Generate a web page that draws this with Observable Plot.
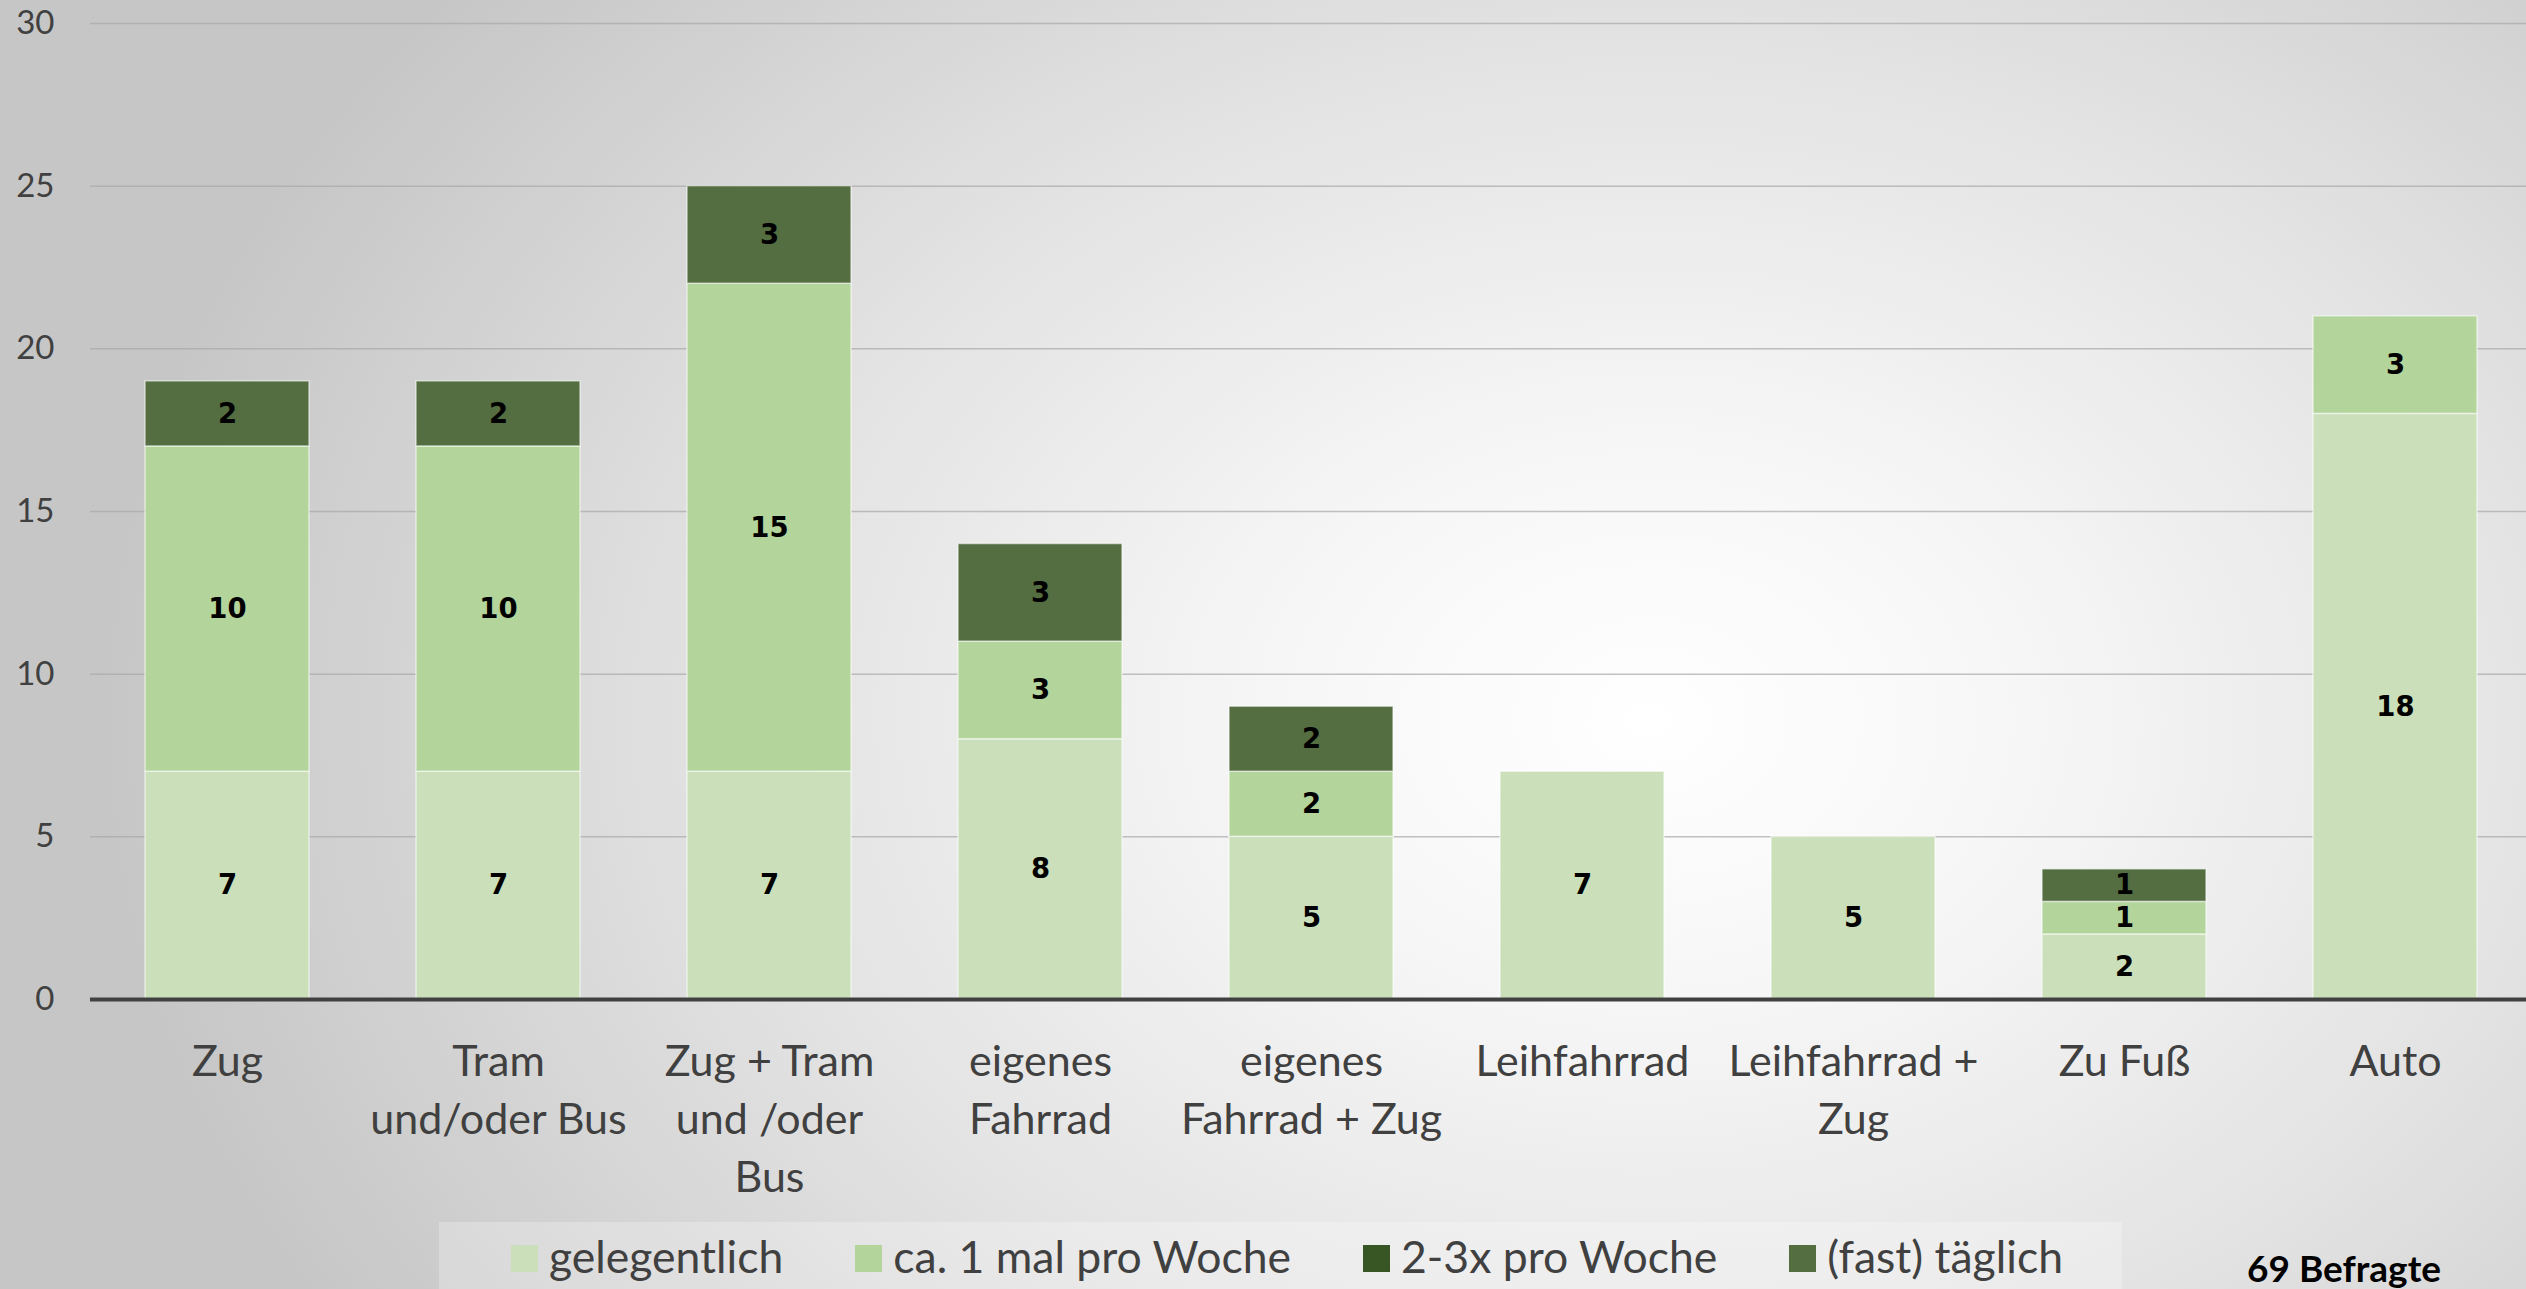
<!DOCTYPE html>
<html><head><meta charset="utf-8">
<script src="https://cdn.jsdelivr.net/npm/d3@7"></script>
<script src="https://cdn.jsdelivr.net/npm/@observablehq/plot@0.6"></script>
<style>
html,body{margin:0;padding:0;}
body{width:2526px;height:1289px;overflow:hidden;position:relative;font-family:Lato,sans-serif;
 background: radial-gradient(ellipse 1550px 1150px at 1650px 720px, #ffffff 0%, #f6f6f6 25%, #e2e2e2 60%, #cdcdcd 90%, #c6c6c6 100%);}
#chart svg{display:block;}
#legend{position:absolute;left:439px;top:1222px;width:1683px;height:67px;background:rgba(255,255,255,0.25);}
#legend .row{position:absolute;left:72px;top:12px;display:flex;align-items:flex-start;font-size:44.5px;line-height:1;color:#404040;white-space:nowrap;}
#legend .item{display:flex;align-items:flex-start;margin-right:72px;}
#legend .sw{width:27px;height:27px;margin-top:11px;margin-right:11px;}
#note{position:absolute;left:2247px;top:1249px;font-size:37px;line-height:1;font-weight:bold;color:#000;white-space:nowrap;}
</style>
</head><body>
<div id="chart"></div>
<div id="legend"><div class="row"></div></div>
<div id="note"></div>
<script>
const categories = ["Zug","Tram und/oder Bus","Zug + Tram und /oder Bus","eigenes Fahrrad","eigenes Fahrrad + Zug","Leihfahrrad","Leihfahrrad + Zug","Zu Fuß","Auto"];
const categoryLabels = ["Zug","Tram\nund/oder Bus","Zug + Tram\nund /oder\nBus","eigenes\nFahrrad","eigenes\nFahrrad + Zug","Leihfahrrad","Leihfahrrad +\nZug","Zu Fuß","Auto"];
const seriesNames = ["gelegentlich","ca. 1 mal pro Woche","2-3x pro Woche","(fast) täglich"];
const gelegentlich = [7,7,7,8,5,7,5,2,18];
const proWoche1 = [10,10,15,3,2,0,0,1,3];
const proWoche23 = [0,0,0,0,0,0,0,0,0];
const taeglich = [2,2,3,3,2,0,0,1,0];
const yTicks = [0,5,10,15,20,25,30];
const noteText = "69 Befragte";
const colors = ["#cbe0ba","#b3d49b","#375623","#546e41"];

const seriesValues = [gelegentlich, proWoche1, proWoche23, taeglich];
const rows = [];
categories.forEach((c, i) => {
  seriesNames.forEach((s, j) => rows.push({cat: c, series: s, value: seriesValues[j][i]}));
});

const chart = Plot.plot({
  width: 2526, height: 1222,
  marginLeft: 90, marginRight: 0, marginTop: 23, marginBottom: 223,
  style: {background: "transparent", overflow: "visible", fontFamily: "Lato, sans-serif"},
  x: {domain: categories, range: [90, 2531], paddingInner: 0.395, paddingOuter: 0.1975, label: null},
  y: {domain: [0, 30], label: null},
  color: {domain: seriesNames, range: colors},
  marks: [
    Plot.gridY(yTicks, {stroke: "#a8a8a8", strokeOpacity: 0.7, strokeWidth: 1.5}),
    Plot.barY(rows, {x: "cat", y: "value", z: "series", fill: "series", stroke: "#ffffff", strokeOpacity: 0.55, strokeWidth: 1.5}),
    Plot.ruleY([0], {stroke: "#404040", strokeWidth: 4}),
    Plot.text(rows, Plot.stackY({x: "cat", y: "value", z: "series",
      text: d => d.value > 0 ? String(d.value) : "",
      fontWeight: "bold", fontSize: 27.5, fontFamily: "DejaVu Sans", fill: "#000"})),
    Plot.axisY(yTicks, {tickSize: 0, tickPadding: 36, fontSize: 33, fill: "#404040", label: null}),
    Plot.axisX({tickSize: 0, tickPadding: 35, fontSize: 43, lineHeight: 1.35, fill: "#404040", label: null,
      tickFormat: d => categoryLabels[categories.indexOf(d)]})
  ]
});
document.getElementById("chart").appendChild(chart);

const row = document.querySelector("#legend .row");
seriesNames.forEach((s, j) => {
  const it = document.createElement("div"); it.className = "item";
  const sw = document.createElement("div"); sw.className = "sw"; sw.style.background = colors[j];
  const t = document.createElement("span"); t.textContent = s;
  it.appendChild(sw); it.appendChild(t); row.appendChild(it);
});
document.getElementById("note").textContent = noteText;
</script>
</body></html>
